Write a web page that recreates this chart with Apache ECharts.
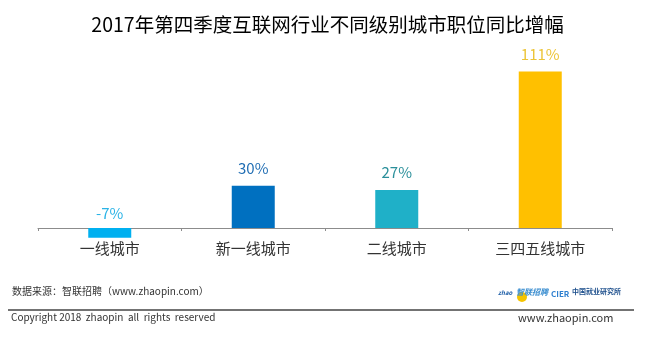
<!DOCTYPE html>
<html>
<head>
<meta charset="utf-8">
<script src="https://cdn.jsdelivr.net/npm/echarts@6/dist/echarts.min.js"></script>
<style>
  html, body { margin: 0; padding: 0; background: #fff; }
  #chart { width: 655px; height: 337px; }
</style>
</head>
<body>
<div id="chart"></div>
<script>
// City tiers and year-on-year growth of internet job postings (%)
const categories = ['一线城市', '新一线城市', '二线城市', '三四五线城市'];
const growth = [-7, 30, 27, 111];
const barColors = ['#00b0f0', '#0070c0', '#1fb0c8', '#ffc000'];
const labelColors = ['#2bb3e6', '#1f6db3', '#2a8f9a', '#ecc437'];

const FONT = '"Microsoft YaHei", "Noto Sans CJK SC", sans-serif';

const chart = echarts.init(document.getElementById('chart'), null, { renderer: 'canvas' });

chart.setOption({
  backgroundColor: '#ffffff',
  animation: false,
  grid: { left: 38, right: 43, top: 58.8, bottom: 80.8 },
  xAxis: {
    type: 'category',
    data: categories,
    axisLine: { onZero: true, lineStyle: { color: '#8c8c8c', width: 1 } },
    axisTick: { show: true, length: 3, lineStyle: { color: '#8c8c8c' } },
    // labels sit just under the zero line rather than the grid's lower edge
    axisLabel: { color: '#333', fontSize: 15, fontFamily: FONT, margin: -15 }
  },
  yAxis: {
    type: 'value',
    min: -20,
    max: 120,
    show: false,
    splitLine: { show: false }
  },
  series: [{
    type: 'bar',
    barWidth: 43,
    data: growth.map((v, i) => ({
      value: v,
      itemStyle: { color: barColors[i] },
      label: {
        color: labelColors[i],
        position: 'top',
        distance: v < 0 ? 7 : 10
      }
    })),
    label: {
      show: true,
      fontSize: 15,
      fontFamily: FONT,
      formatter: p => p.value + '%'
    }
  }],
  graphic: [
    {
      type: 'text', left: 'center', top: 15,
      style: {
        text: '2017年第四季度互联网行业不同级别城市职位同比增幅',
        font: '19.5px ' + FONT, fill: '#000'
      }
    },
    {
      type: 'text', left: 12, top: 286,
      style: { text: '数据来源：智联招聘（www.zhaopin.com）', font: '10px ' + FONT, fill: '#333' }
    },
    {
      type: 'line',
      shape: { x1: 8, y1: 310, x2: 634, y2: 310 },
      style: { stroke: '#444', lineWidth: 1.5 }
    },
    {
      type: 'text', left: 11, top: 312,
      style: { text: 'Copyright 2018  zhaopin  all  rights  reserved', font: '10px ' + FONT, fill: '#333' }
    },
    {
      type: 'text', left: 518, top: 312,
      style: { text: 'www.zhaopin.com', font: '11px ' + FONT, fill: '#333' }
    },
    // partner marks in the footer
    {
      type: 'text', left: 498, top: 290,
      style: { text: 'zhao', font: 'italic bold 6px ' + FONT, fill: '#1f5fa8' }
    },
    {
      type: 'circle', shape: { cx: 522, cy: 297, r: 5 },
      style: { fill: '#f5c400' }
    },
    {
      type: 'text', left: 516, top: 288,
      style: { text: '智联招聘', font: 'italic bold 8px ' + FONT, fill: '#3b8ed0' }
    },
    {
      type: 'text', left: 551, top: 290,
      style: { text: 'CIER', font: 'bold 8px ' + FONT, fill: '#2d7fcf' }
    },
    {
      type: 'text', left: 572, top: 288,
      style: { text: '中国就业研究所', font: 'bold 7px ' + FONT, fill: '#1d4f8c' }
    }
  ]
});
</script>
</body>
</html>
